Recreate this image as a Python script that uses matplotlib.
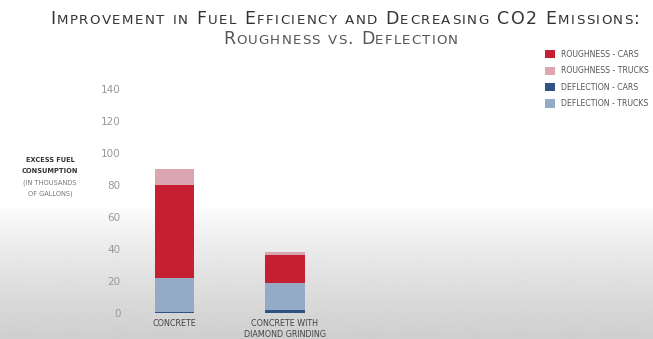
import numpy as np
import matplotlib
matplotlib.use('Agg')
import matplotlib.pyplot as plt
from matplotlib.font_manager import findfont, FontProperties
from matplotlib.ft2font import FT2Font

# data (thousands of gallons)
categories = ['CONCRETE', 'CONCRETE WITH\nDIAMOND GRINDING']
deflection_cars = [0.5, 2]
deflection_trucks = [21.5, 17]
roughness_cars = [58, 17]
roughness_trucks = [10, 2]
yticks = [0, 20, 40, 60, 80, 100, 120, 140]

col_rc = '#c61f32'
col_rt = '#dba6b0'
col_dc = '#2e5384'
col_dt = '#93abc4'

plt.rcParams['font.family'] = ['DejaVu Sans']

W, H = 653, 339
fig = plt.figure(figsize=(W / 100, H / 100), dpi=100)

# background: white at top fading into light grey at the bottom
bg = fig.add_axes([0, 0, 1, 1], zorder=-5)
grad = np.ones(H)
start = 205
grad[start:] = 1 - 0.19 * np.linspace(0, 1, H - start) ** 0.8
bg.imshow(np.tile(grad[:, None], (1, 10)), cmap='gray', vmin=0, vmax=1,
          aspect='auto', extent=[0, 1, 0, 1], interpolation='bilinear')
bg.axis('off')

ax = fig.add_axes([125 / W, (H - 313) / H, 400 / W, 240 / H])
ax.patch.set_alpha(0)
x = np.arange(len(categories))
w = 0.36
b = np.zeros(len(x))
handles = {}
for vals, c, lab in [(deflection_cars, col_dc, 'DEFLECTION - CARS'),
                     (deflection_trucks, col_dt, 'DEFLECTION - TRUCKS'),
                     (roughness_cars, col_rc, 'ROUGHNESS - CARS'),
                     (roughness_trucks, col_rt, 'ROUGHNESS - TRUCKS')]:
    handles[lab] = ax.bar(x, vals, w, bottom=b, color=c, label=lab)
    b = b + np.array(vals)

ax.set_xlim(-0.45, 3.18)
ax.set_ylim(0, 150)
ax.set_yticks(yticks)
ax.set_yticklabels([str(v) for v in yticks], color='#999999', fontsize=7.5)
ax.set_xticks(x)
ax.set_xticklabels(categories, fontsize=5.8, color='#444444', linespacing=1.35)
ax.tick_params(length=0, pad=4)
ax.tick_params(axis='y', pad=3)
for s in ax.spines.values():
    s.set_visible(False)

# y label block
ylab = [('EXCESS FUEL', 160, 'bold', '#333333'),
        ('CONSUMPTION', 171, 'bold', '#333333'),
        ('(IN THOUSANDS', 183, 'normal', '#777777'),
        ('OF GALLONS)', 194, 'normal', '#777777')]
for txt, yy, fw, c in ylab:
    fig.text(50 / W, 1 - yy / H, txt, ha='center', va='center',
             fontsize=4.8, fontweight=fw, color=c)

order = ['ROUGHNESS - CARS', 'ROUGHNESS - TRUCKS', 'DEFLECTION - CARS', 'DEFLECTION - TRUCKS']
leg = fig.legend([handles[k] for k in order], order, loc='upper left',
                 bbox_to_anchor=(538 / W, 1 - 43 / H), frameon=False,
                 fontsize=5.6, handlelength=1.25, handleheight=1.25,
                 labelspacing=0.95, handletextpad=0.75)
for t in leg.get_texts():
    t.set_color('#555555')

ft = FT2Font(findfont(FontProperties(family='DejaVu Sans')))


def advance(ch, size):
    ft.set_size(size, 100)
    return ft.load_char(ord(ch)).linearHoriAdvance / 65536


def small_caps(x0, y, s, big, small, color, target):
    # fake small caps with letter spacing: lower case drawn as smaller capitals
    chars = []
    for ch in s:
        size = small if ch.islower() else big
        chars.append((ch.upper(), size, advance(ch.upper(), size)))
    natural = sum(a for _, _, a in chars)
    track = (target - natural) / (len(chars) - 1)
    xx = x0
    for ch, size, a in chars:
        if ch != ' ':
            fig.text(xx / W, y, ch, fontsize=size, va='baseline', ha='left', color=color)
        xx += a + track


small_caps(50, 1 - 24 / H, 'Improvement in Fuel Efficiency and Decreasing CO2 Emissions:',
           12.5, 9.6, '#333333', 590)
small_caps(223, 1 - 44 / H, 'Roughness vs. Deflection', 12.5, 9.6, '#555555', 235)

fig.savefig('out.png', dpi=100)
